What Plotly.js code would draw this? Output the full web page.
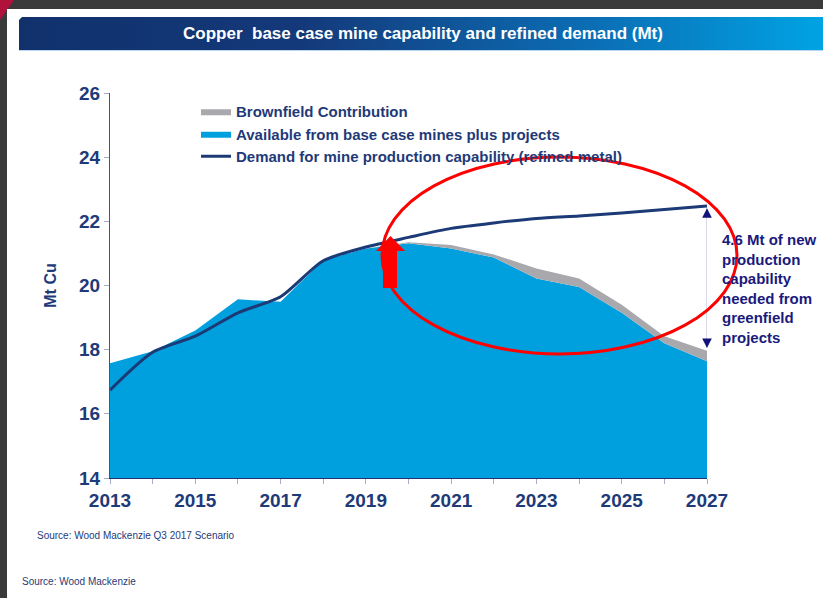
<!DOCTYPE html>
<html>
<head>
<meta charset="utf-8">
<script src="https://cdn.plot.ly/plotly-3.0.1.min.js"></script>
<style>
  html, body { margin: 0; padding: 0; }
  body { width: 823px; height: 598px; background: #3a3a3a; position: relative; overflow: hidden; }
  #crimson { position: absolute; left: 0; top: 0; width: 14px; height: 20px; background: #b0123c;
             clip-path: polygon(0 0, 100% 0, 0 100%); }
  #panel { position: absolute; left: 7px; top: 9px; right: 0; bottom: 0; background: #ffffff; }
  #bar { position: absolute; left: 19px; top: 17px; width: 804px; height: 33px;
         background: linear-gradient(to right, #10316c 0%, #14397a 35%, #0b6fb6 72%, #00a3e3 100%);
         clip-path: polygon(3px 0, 100% 0, 100% 100%, 0 100%, 0 3px); }
  #barline { position: absolute; left: 19px; top: 50px; width: 804px; height: 1px; background: #b8d8f0; }
  #chart { position: absolute; left: 0; top: 0; width: 823px; height: 598px; }
</style>
</head>
<body>
<div id="crimson"></div>
<div id="panel"></div>
<div id="bar"></div>
<div id="barline"></div>
<div id="chart"></div>
<script>
// ---- data ----
const years = [2013, 2014, 2015, 2016, 2017, 2018, 2019, 2020, 2021, 2022, 2023, 2024, 2025, 2026, 2027];
const availableBase = [17.58, 17.95, 18.6, 19.57, 19.49, 20.79, 21.15, 21.32, 21.15, 20.87, 20.22, 19.95, 19.15, 18.2, 17.64];
const brownfield = [0, 0, 0, 0, 0, 0, 0, 0.03, 0.11, 0.1, 0.31, 0.27, 0.25, 0.22, 0.33];
const demand = [16.74, 17.92, 18.42, 19.15, 19.65, 20.77, 21.2, 21.5, 21.78, 21.95, 22.09, 22.17, 22.26, 22.37, 22.48];
const seriesNames = ["Available from base case mines plus projects", "Brownfield Contribution", "Demand for mine production capability (refined metal)"];
const gapStart = 18.05, gapEnd = 22.41;
const gapText = "4.6 Mt of new<br>production<br>capability<br>needed from<br>greenfield<br>projects";
const chartTitle = "Copper\u00a0 base case mine capability and refined demand (Mt)";
const yTitle = "Mt Cu";
const source1 = "Source: Wood Mackenzie Q3 2017 Scenario";
const source2 = "Source: Wood Mackenzie";

const NAVY = "#1f3a78";
const SANS = "'Liberation Sans', Arial, sans-serif";

// pixel -> paper helpers for decorations (plot area: x 110..707, y 93..478)
const px = p => (p - 110) / 597;
const py = p => (478 - p) / 385;

const traces = [
  { x: years, y: availableBase, name: seriesNames[0], type: "scatter", mode: "lines",
    stackgroup: "cap", line: { width: 0, color: "#00a0de" }, fillcolor: "#00a0de",
    legendrank: 2, legendgroup: "b" },
  { x: years, y: brownfield, name: seriesNames[1], type: "scatter", mode: "lines",
    stackgroup: "cap", line: { width: 0, color: "#a9a9ad" }, fillcolor: "#a9a9ad",
    legendrank: 1, legendgroup: "a" },
  { x: years, y: demand, name: seriesNames[2], type: "scatter", mode: "lines",
    line: { width: 3, color: "#1b3a76", shape: "spline", smoothing: 0.7 },
    legendrank: 3, legendgroup: "c" }
];

const ellipse = { type: "circle", xref: "paper", yref: "paper", layer: "above",
  x0: px(382), x1: px(737), y0: py(354), y1: py(157), line: { color: "#ff0000", width: 3 } };

const arrowPath = "M " + px(390.5) + " " + py(236) +
  " L " + px(405) + " " + py(251) + " L " + px(397) + " " + py(251) +
  " L " + px(397) + " " + py(288) + " L " + px(383) + " " + py(288) +
  " L " + px(383) + " " + py(251) + " L " + px(376) + " " + py(251) + " Z";
const redArrow = { type: "path", xref: "paper", yref: "paper", layer: "above", path: arrowPath,
  fillcolor: "#ff0000", line: { width: 0 } };

const gapLine = { type: "line", xref: "x", yref: "y", layer: "above",
  x0: years[years.length - 1], x1: years[years.length - 1], y0: gapStart, y1: gapEnd,
  line: { color: "#b4b4d6", width: 1 } };

const layout = {
  width: 823, height: 598, autosize: false,
  margin: { l: 110, r: 116, t: 93, b: 120 },
  paper_bgcolor: "rgba(0,0,0,0)", plot_bgcolor: "rgba(0,0,0,0)",
  title: { text: chartTitle, xref: "container", yref: "container", x: 423 / 823, xanchor: "center",
           y: 1 - 33.5 / 598, yanchor: "middle",
           font: { family: SANS, size: 17, color: "#ffffff", weight: "bold" } },
  showlegend: true,
  legend: { x: px(196), y: py(95), xanchor: "left", yanchor: "top", bgcolor: "rgba(0,0,0,0)",
            traceorder: "grouped", tracegroupgap: 0, itemwidth: 30,
            font: { family: SANS, size: 15, color: NAVY, weight: "bold" } },
  xaxis: { range: [2013, 2027], tick0: 2013, dtick: 2, ticks: "outside", ticklen: 5, tickcolor: "#a4acc8",
           showline: true, linecolor: "#1c3470", linewidth: 1, showgrid: false, zeroline: false,
           tickfont: { family: SANS, size: 19, color: NAVY, weight: "bold" },
           minor: { dtick: 1, ticks: "outside", ticklen: 5, tickcolor: "#a4acc8", showgrid: false },
           fixedrange: true },
  yaxis: { range: [14, 26], tick0: 14, dtick: 2, ticks: "outside", ticklen: 5, tickcolor: "#a4acc8",
           showline: true, linecolor: "#3656a0", linewidth: 1, showgrid: false, zeroline: false,
           tickfont: { family: SANS, size: 19, color: NAVY, weight: "bold" },
           title: { text: yTitle, standoff: 18, font: { family: SANS, size: 16, color: NAVY, weight: "bold" } },
           fixedrange: true },
  shapes: [gapLine, ellipse, redArrow],
  annotations: [
    { xref: "x", yref: "y", x: years[years.length - 1], y: gapEnd, ax: 0, ay: 9, text: "",
      showarrow: true, arrowhead: 2, arrowsize: 1.6, arrowwidth: 1.2, arrowcolor: "#12127a", standoff: 0 },
    { xref: "x", yref: "y", x: years[years.length - 1], y: gapStart, ax: 0, ay: -9, text: "",
      showarrow: true, arrowhead: 2, arrowsize: 1.6, arrowwidth: 1.2, arrowcolor: "#12127a", standoff: 0 },
    { xref: "paper", yref: "paper", x: px(720), y: py(288), xanchor: "left", yanchor: "middle", align: "left",
      text: gapText, showarrow: false, font: { family: SANS, size: 15, color: "#1a1a7c", weight: "bold" } },
    { xref: "paper", yref: "paper", x: px(35), y: py(535), xanchor: "left", yanchor: "middle", align: "left",
      text: source1, showarrow: false, font: { family: SANS, size: 10, color: NAVY } },
    { xref: "paper", yref: "paper", x: px(20), y: py(581), xanchor: "left", yanchor: "middle", align: "left",
      text: source2, showarrow: false, font: { family: SANS, size: 10, color: NAVY } }
  ]
};

Plotly.newPlot("chart", traces, layout, { displayModeBar: false, staticPlot: true });
</script>
</body>
</html>
